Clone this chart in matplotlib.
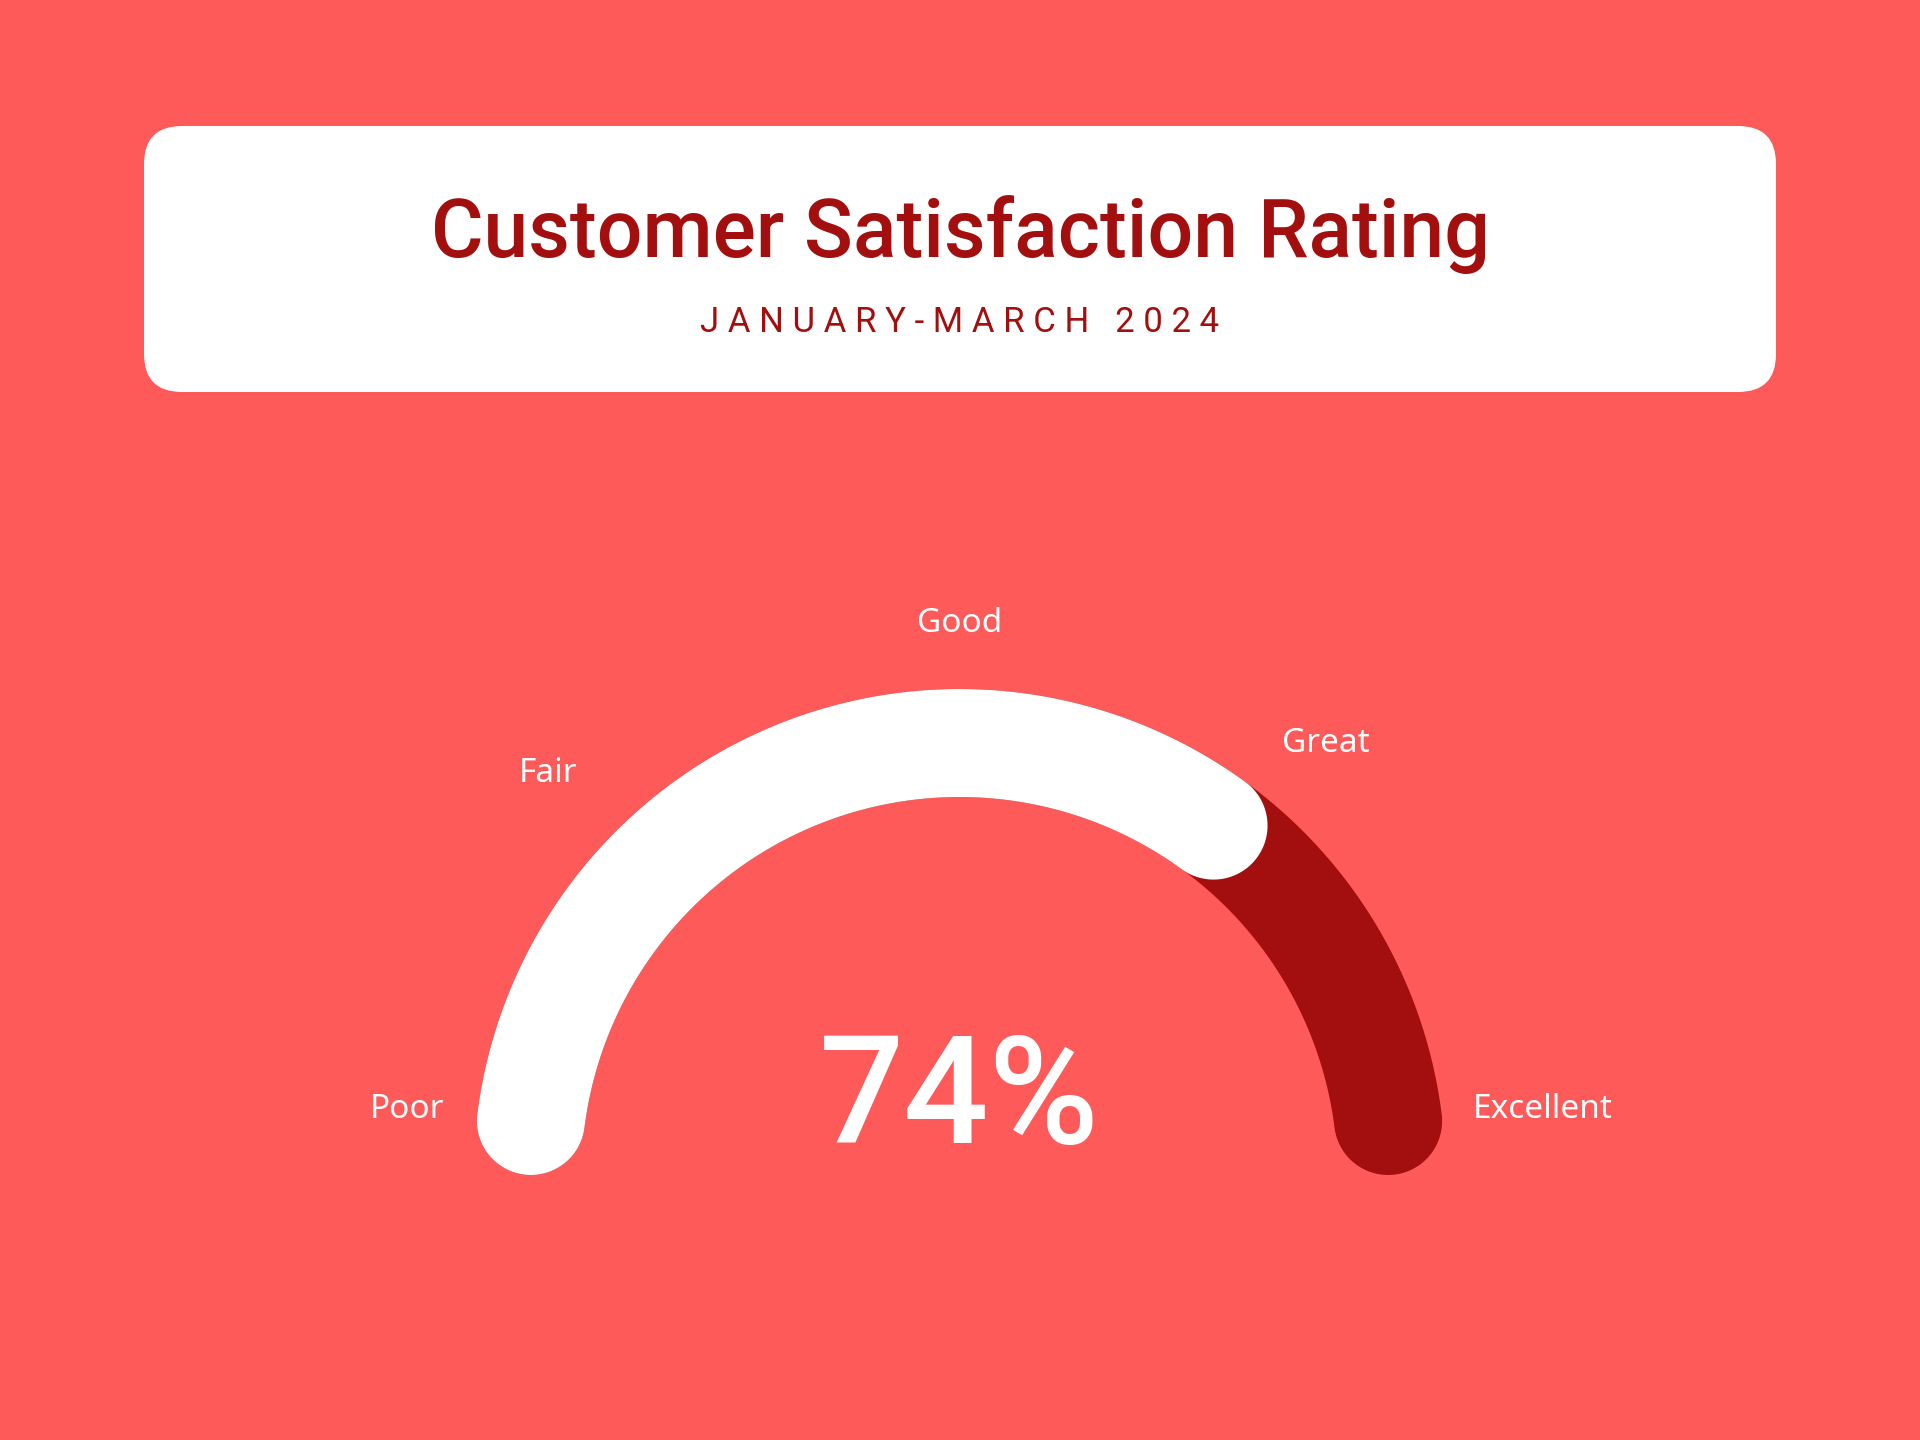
import numpy as np
import matplotlib.pyplot as plt
from matplotlib.patches import Polygon, FancyBboxPatch

# chart data
title = 'Customer Satisfaction Rating'
subtitle = 'JANUARY-MARCH 2024'
score = 74  # percent
scale_labels = ['Poor', 'Fair', 'Good', 'Great', 'Excellent']
scale_steps = [0, 25, 50, 75, 100]

# look
bg = '#FF5A5A'
dark = '#A30E0E'
white = '#FFFFFF'

# gauge geometry in pixel units (y grows downward)
cx, cy = 959.5, 1175
r_in, r_out = 378, 486
# label centres relative to gauge centre
label_offsets = [(-553, 66), (-412, 402), (0, 551), (366, 432), (583, 66)]


def pct_to_angle(p):
    # 0% -> left (180 deg), 100% -> right (0 deg)
    return np.radians(180 - 1.8 * p)


def band(p0, p1, n=200):
    # arc band with rounded ends, caps kept inside the angle range
    cr = (r_out - r_in) / 2
    rm = r_in + cr
    d = np.arcsin(cr / rm)
    s = pct_to_angle(p0) - d
    e = pct_to_angle(p1) + d
    a = np.linspace(s, e, n)
    pts = [(rm + cr) * np.c_[np.cos(a), np.sin(a)]]
    phi = np.linspace(0, np.pi, 60)
    u = np.array([np.cos(e), np.sin(e)])
    t = np.array([np.sin(e), -np.cos(e)])
    c = rm * u
    pts.append(c + cr * (np.outer(np.cos(phi), u) + np.outer(np.sin(phi), t)))
    pts.append((rm - cr) * np.c_[np.cos(a[::-1]), np.sin(a[::-1])])
    u = np.array([np.cos(s), np.sin(s)])
    t = np.array([np.sin(s), -np.cos(s)])
    c = rm * u
    pts.append(c + cr * (-np.outer(np.cos(phi), u) - np.outer(np.sin(phi), t)))
    xy = np.vstack(pts)
    return np.c_[cx + xy[:, 0], cy - xy[:, 1]]


fig = plt.figure(figsize=(19.2, 14.4), dpi=100, facecolor=bg)
ax = fig.add_axes([0, 0, 1, 1])
ax.set_xlim(0, 1920)
ax.set_ylim(1440, 0)
ax.axis('off')
ax.set_facecolor(bg)

# header card
card = FancyBboxPatch((144, 126), 1632, 266, boxstyle='round,pad=0,rounding_size=38',
                      fc=white, ec='none')
ax.add_patch(card)
ax.text(960, 234, title, ha='center', va='center', color=dark,
        fontsize=58, fontweight='medium', family=['Roboto', 'DejaVu Sans'])
ax.text(960, 322, ' '.join(subtitle),
        ha='center', va='center', color=dark, fontsize=25,
        family=['Roboto', 'DejaVu Sans'])

# gauge: full track then value on top
ax.add_patch(Polygon(band(scale_steps[0], scale_steps[-1]), closed=True, fc=dark, ec='none'))
ax.add_patch(Polygon(band(scale_steps[0], score), closed=True, fc=white, ec='none'))

for lab, (dx, dy) in zip(scale_labels, label_offsets):
    ax.text(cx + dx, cy - dy, lab, ha='center', va='center', color=white,
            fontsize=24, family=['Noto Sans', 'DejaVu Sans'])

ax.text(cx, 1102, f'{score}%', ha='center', va='center', color=white,
        fontsize=108, fontweight='medium', family=['Roboto', 'DejaVu Sans'])

fig.savefig('out.png', dpi=100, facecolor=bg)
